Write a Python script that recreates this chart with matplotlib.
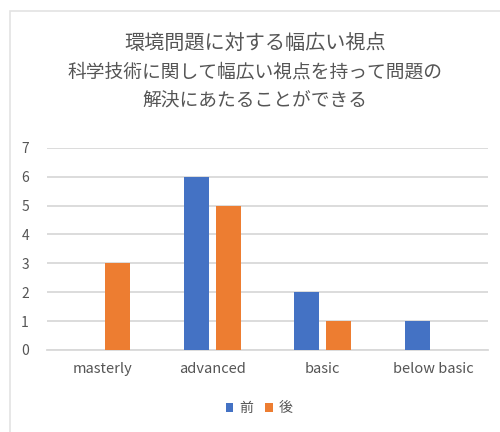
import numpy as np
import matplotlib.pyplot as plt
from matplotlib.patches import Rectangle

plt.rcParams['font.family'] = ['Noto Sans CJK JP', 'DejaVu Sans']

# rating levels and counts before / after
categories = ['masterly', 'advanced', 'basic', 'below basic']
before = [0, 6, 2, 1]
after = [3, 5, 1, 0]
series_names = ['前', '後']
title_lines = ['環境問題に対する幅広い視点',
               '科学技術に関して幅広い視点を持って問題の',
               '解決にあたることができる']

blue = '#4472C4'
orange = '#ED7D31'
textcol = '#555555'

fig = plt.figure(figsize=(5.0, 4.32), dpi=100)
# chart frame
fig.patches.append(Rectangle((0.02, -0.01), 1.0, 0.985, transform=fig.transFigure,
                             fill=False, edgecolor='#E3E3E3', linewidth=1.2))

ax = fig.add_axes([0.094, 0.19, 0.882, 0.468])
x = np.arange(len(categories))
w = 0.226
gap = 0.06
ax.bar(x - (w + gap) / 2, before, width=w, color=blue, label=series_names[0], zorder=3)
ax.bar(x + (w + gap) / 2, after, width=w, color=orange, label=series_names[1], zorder=3)

ax.set_xlim(-0.5, len(categories) - 0.5)
ax.set_ylim(0, 7)
ax.set_yticks(range(0, 8))
ax.yaxis.grid(True, color='#D9D9D9', linewidth=1.3, zorder=0)
ax.set_axisbelow(True)
for s in ax.spines.values():
    s.set_visible(False)
ax.spines['bottom'].set_visible(True)
ax.spines['bottom'].set_color('#D9D9D9')
ax.spines['bottom'].set_linewidth(1.3)
ax.tick_params(length=0, colors=textcol)
ax.tick_params(axis='x', pad=9, labelsize=10.5)
ax.tick_params(axis='y', pad=13, labelsize=10)
ax.set_xticks(x)
ax.set_xticklabels(categories)

ys = [0.9, 0.833, 0.767]
sizes = [14.5, 13.5, 13.5]
for t, y, fs in zip(title_lines, ys, sizes):
    fig.text(0.51, y, t, ha='center', va='center', fontsize=fs, color=textcol)

ax.legend(loc='center', bbox_to_anchor=(0.518, 0.055), bbox_transform=fig.transFigure,
          ncol=2, frameon=False, fontsize=10, labelcolor=textcol,
          handlelength=0.55, handleheight=0.55, handletextpad=0.4, columnspacing=0.9)

fig.savefig('out.png', dpi=100, facecolor='white')
